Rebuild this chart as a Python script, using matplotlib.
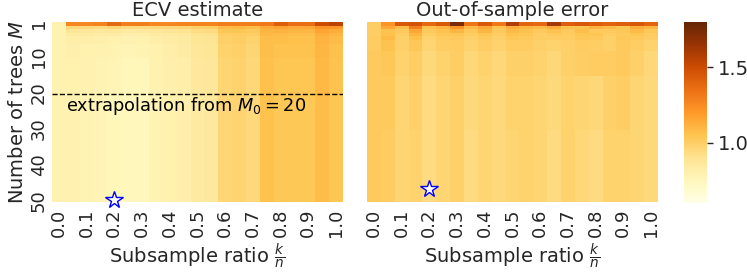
import numpy as np
import matplotlib
matplotlib.use("Agg")
import matplotlib.pyplot as plt

# column categories (subsample ratio k/n) and row categories (number of trees M)
subsample_ratio = [0.00, 0.05, 0.10, 0.15, 0.20, 0.25, 0.30, 0.35, 0.40, 0.45, 0.50,
                   0.55, 0.60, 0.65, 0.70, 0.75, 0.80, 0.85, 0.90, 0.95, 1.00]
num_trees = list(range(1, 51))

# values, as (number of rows, row values) blocks from M=1 down
ecv_blocks = [
    (1, [0.79, 1.27, 1.27, 1.28, 1.38, 1.30, 1.30, 1.27, 1.27, 1.28, 1.28,
         1.28, 1.30, 1.30, 1.30, 1.32, 1.42, 1.36, 1.36, 1.50, 1.55]),
    (1, [0.79, 0.95, 0.95, 0.94, 0.97, 0.94, 0.94, 0.95, 0.96, 0.97, 0.99,
         1.00, 1.08, 1.09, 1.07, 1.14, 1.17, 1.15, 1.15, 1.22, 1.21]),
    (1, [0.79, 0.88, 0.87, 0.86, 0.87, 0.85, 0.86, 0.87, 0.89, 0.90, 0.93,
         0.94, 1.03, 1.04, 1.02, 1.10, 1.11, 1.10, 1.10, 1.16, 1.13]),
    (1, [0.79, 0.84, 0.84, 0.83, 0.83, 0.81, 0.82, 0.84, 0.85, 0.86, 0.90,
         0.91, 1.00, 1.01, 1.00, 1.09, 1.08, 1.07, 1.07, 1.13, 1.10]),
    (2, [0.79, 0.82, 0.82, 0.81, 0.80, 0.79, 0.80, 0.82, 0.83, 0.84, 0.88,
         0.89, 0.99, 1.00, 0.98, 1.07, 1.07, 1.06, 1.06, 1.11, 1.08]),
    (4, [0.79, 0.81, 0.80, 0.79, 0.78, 0.77, 0.78, 0.80, 0.82, 0.83, 0.87,
         0.88, 0.98, 0.99, 0.97, 1.07, 1.05, 1.05, 1.05, 1.10, 1.06]),
    (10, [0.79, 0.80, 0.79, 0.78, 0.77, 0.76, 0.76, 0.79, 0.81, 0.82, 0.86,
          0.87, 0.97, 0.98, 0.96, 1.06, 1.04, 1.04, 1.04, 1.09, 1.05]),
    (30, [0.79, 0.79, 0.78, 0.77, 0.755, 0.75, 0.75, 0.78, 0.80, 0.81, 0.85,
          0.86, 0.965, 0.975, 0.955, 1.055, 1.035, 1.035, 1.035, 1.075, 1.04]),
]

oos_blocks = [
    (1, [1.00, 1.22, 1.44, 1.47, 1.38, 1.44, 1.74, 1.33, 1.44, 1.32, 1.58,
         1.40, 1.38, 1.62, 1.42, 1.45, 1.42, 1.40, 1.42, 1.45, 1.40]),
    (1, [1.00, 1.15, 1.08, 1.30, 1.05, 1.10, 1.22, 1.08, 1.15, 1.04, 1.13,
         1.10, 1.08, 1.13, 1.05, 1.05, 1.11, 1.08, 1.04, 1.13, 1.10]),
    (1, [1.00, 1.05, 1.02, 1.15, 1.02, 1.05, 1.10, 1.03, 1.10, 1.02, 1.08,
         1.05, 1.02, 1.05, 1.02, 1.07, 1.02, 1.02, 1.03, 1.08, 1.03]),
    (1, [1.00, 1.06, 1.00, 1.10, 1.00, 1.03, 1.04, 1.01, 1.04, 1.00, 1.05,
         1.04, 1.00, 1.02, 1.01, 1.04, 1.04, 1.00, 1.02, 1.04, 1.01]),
    (1, [1.01, 1.08, 0.99, 1.06, 0.98, 1.01, 1.02, 0.99, 1.02, 0.99, 1.03,
         1.02, 1.00, 1.00, 1.00, 1.03, 1.02, 0.99, 1.03, 1.02, 1.00]),
    (3, [1.01, 1.05, 0.99, 1.03, 0.97, 1.00, 1.01, 0.98, 1.00, 0.98, 1.01,
         1.01, 0.99, 0.98, 0.99, 1.01, 1.00, 0.99, 1.02, 1.00, 0.98]),
    (7, [1.02, 1.03, 0.98, 1.00, 0.95, 0.98, 1.00, 0.96, 0.98, 0.96, 0.99,
         0.99, 0.98, 0.96, 0.99, 1.00, 1.01, 1.01, 1.02, 0.99, 0.96]),
    (15, [1.02, 1.02, 0.97, 0.99, 0.94, 0.97, 0.99, 0.95, 0.97, 0.95, 0.98,
          0.98, 0.97, 0.95, 0.98, 0.97, 0.96, 0.99, 1.00, 0.97, 0.95]),
    (20, [1.02, 1.01, 0.97, 0.98, 0.94, 0.97, 0.99, 0.94, 0.97, 0.95, 0.97,
          0.98, 0.97, 0.94, 0.98, 0.96, 0.94, 0.98, 0.98, 0.97, 0.95]),
]

# optimum markers (k/n, M)
ecv_star = (0.20, 50)
oos_star = (0.20, 47)
extrap_m0 = 20

VMIN, VMAX = 0.6, 1.8
TEXT = "#262626"


def blocks_to_matrix(blocks):
    rows = []
    for n, vals in blocks:
        rows.extend([vals] * n)
    return np.array(rows)


def draw_heatmap(ax, mat, title, star):
    mesh = ax.pcolormesh(mat, cmap="YlOrBr", vmin=VMIN, vmax=VMAX)
    ax.set_xlim(0, len(subsample_ratio))
    ax.set_ylim(len(num_trees), 0)
    xt = np.arange(0, len(subsample_ratio), 2)
    ax.set_xticks(xt + 0.5)
    ax.set_xticklabels([f"{subsample_ratio[i]:.1f}" for i in xt], rotation=90)
    ax.tick_params(length=0, labelsize=13, colors=TEXT, pad=5)
    ax.set_title(title, fontsize=14, color=TEXT, pad=4)
    ax.set_xlabel(r"Subsample ratio $\frac{k}{n}$", fontsize=14, color=TEXT, labelpad=3)
    for s in ax.spines.values():
        s.set_visible(False)
    col = subsample_ratio.index(star[0])
    row = num_trees.index(star[1])
    ax.plot(col + 0.5, row + 0.5, marker="*", markersize=13, markerfacecolor="white",
            markeredgecolor="blue", markeredgewidth=1.0, clip_on=False)
    return mesh


fig = plt.figure(figsize=(7.47, 2.73), dpi=100)
ax1 = fig.add_axes([52 / 747, 71 / 273, 291 / 747, 180 / 273])
ax2 = fig.add_axes([367 / 747, 71 / 273, 291 / 747, 180 / 273])
cax = fig.add_axes([684 / 747, 70 / 273, 23 / 747, 181 / 273])

ecv = blocks_to_matrix(ecv_blocks)
oos = blocks_to_matrix(oos_blocks)

mesh = draw_heatmap(ax1, ecv, "ECV estimate", ecv_star)
draw_heatmap(ax2, oos, "Out-of-sample error", oos_star)

yt = [0, 9, 19, 29, 39, 49]
ax1.set_yticks(np.array(yt) + 0.5)
ax1.set_yticklabels([str(num_trees[i]) for i in yt], rotation=90, va="center")
ax1.tick_params(axis="y", pad=3)
ax1.set_ylabel(r"Number of trees $M$", fontsize=14, color=TEXT, labelpad=2)
ax2.set_yticks([])

ax1.axhline(extrap_m0, color="black", linestyle="--", linewidth=1.0)
ax1.text(1, extrap_m0 + 3.3, rf"extrapolation from $M_0={extrap_m0}$", fontsize=12.8,
         color="black", va="center", ha="left")

cb = fig.colorbar(mesh, cax=cax)
cb.outline.set_visible(False)
cb.set_ticks([1.0, 1.5])
cb.ax.tick_params(labelsize=14, colors=TEXT, length=4, width=1)

fig.savefig("out.png", dpi=100)
